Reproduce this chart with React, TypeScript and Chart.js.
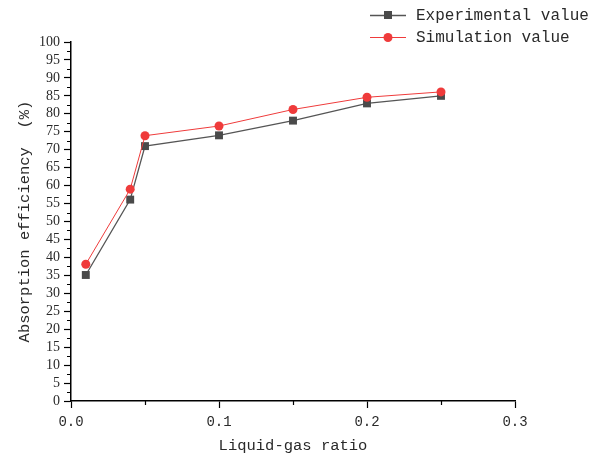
import React, { useEffect, useRef } from "react";
import { Chart, registerables } from "chart.js";

Chart.register(...registerables);

const liquidGasRatio = [0.01, 0.04, 0.05, 0.1, 0.15, 0.2, 0.25];
const experimentalValues = [35.1, 56.1, 71.0, 74.0, 78.1, 82.9, 85.0];
const simulationValues = [38.1, 59.0, 73.9, 76.6, 81.2, 84.6, 86.1];
const seriesNames = ["Experimental value", "Simulation value"];
const minorXTicks = [0.05, 0.15, 0.25];
const minorYTicks = [2.5, 7.5, 12.5, 17.5, 22.5, 27.5, 32.5, 37.5, 42.5, 47.5, 52.5, 57.5, 62.5, 67.5, 72.5, 77.5, 82.5, 87.5, 92.5, 97.5];

const GRAY = "#4a4a4a";
const RED = "#ef3b3b";
const TEXT = "#2a2a2a";
const MONO = "'Liberation Mono', 'DejaVu Sans Mono', monospace";
const SERIF = "'Liberation Serif', 'DejaVu Serif', serif";

const minorTicksPlugin = {
  id: "minorTicks",
  afterDraw(chart: any) {
    const ctx = chart.ctx;
    const xs = chart.scales.x;
    const ys = chart.scales.y;
    const area = chart.chartArea;
    ctx.save();
    ctx.strokeStyle = "#000";
    ctx.lineWidth = 1.2;
    ctx.beginPath();
    for (const v of minorYTicks) {
      const py = Math.round(ys.getPixelForValue(v)) + 0.5;
      ctx.moveTo(area.left - 4, py);
      ctx.lineTo(area.left, py);
    }
    for (const v of minorXTicks) {
      const px = Math.round(xs.getPixelForValue(v)) + 0.5;
      ctx.moveTo(px, area.bottom);
      ctx.lineTo(px, area.bottom + 4);
    }
    ctx.stroke();
    ctx.restore();
  },
};

const legendPlugin = {
  id: "customLegend",
  afterDraw(chart: any) {
    const ctx = chart.ctx;
    ctx.save();
    const rows = [15, 37];
    chart.data.datasets.forEach((ds: any, i: number) => {
      const y = rows[i];
      ctx.strokeStyle = ds.borderColor;
      ctx.lineWidth = ds.borderWidth;
      ctx.beginPath();
      ctx.moveTo(370, y + 0.5);
      ctx.lineTo(406, y + 0.5);
      ctx.stroke();
      ctx.fillStyle = ds.pointBackgroundColor;
      if (ds.pointStyle === "rect") {
        ctx.fillRect(388 - 4, y - 4, 8, 8);
      } else {
        ctx.beginPath();
        ctx.arc(388, y + 0.5, 4.5, 0, Math.PI * 2);
        ctx.fill();
      }
      ctx.fillStyle = TEXT;
      ctx.font = "16px " + MONO;
      ctx.textBaseline = "middle";
      ctx.textAlign = "left";
      ctx.fillText(ds.label, 416, y + 1);
    });
    ctx.restore();
  },
};

export default function App() {
  const ref = useRef<HTMLCanvasElement | null>(null);
  useEffect(() => {
    if (!ref.current) return;
    const chart = new Chart(ref.current, {
      type: "line",
      data: {
        datasets: [
          {
            label: seriesNames[0],
            data: liquidGasRatio.map((x, i) => ({ x, y: experimentalValues[i] })),
            borderColor: "#555555",
            borderWidth: 1.3,
            pointStyle: "rect",
            pointRadius: 5.6,
            pointBackgroundColor: GRAY,
            pointBorderColor: GRAY,
            pointBorderWidth: 0,
            order: 2,
          },
          {
            label: seriesNames[1],
            data: liquidGasRatio.map((x, i) => ({ x, y: simulationValues[i] })),
            borderColor: RED,
            borderWidth: 1,
            pointStyle: "circle",
            pointRadius: 4.5,
            pointBackgroundColor: RED,
            pointBorderColor: RED,
            pointBorderWidth: 0,
            order: 1,
          },
        ],
      },
      options: {
        animation: false,
        responsive: false,
        maintainAspectRatio: false,
        layout: { padding: { left: 0, top: 42, right: 92, bottom: 0 } },
        plugins: {
          legend: { display: false },
          tooltip: { enabled: false },
        },
        scales: {
          x: {
            type: "linear",
            min: 0,
            max: 0.3,
            afterFit(scale: any) {
              scale.height = 55;
            },
            ticks: {
              stepSize: 0.1,
              autoSkip: false,
              color: TEXT,
              padding: 6,
              maxRotation: 0,
              font: { family: MONO, size: 14 },
              callback: (v: any) => Number(v).toFixed(1),
            },
            grid: {
              drawOnChartArea: false,
              drawTicks: true,
              tickLength: 7,
              tickColor: "#000",
              tickWidth: 1.2,
            },
            border: { display: true, color: "#000", width: 1.5 },
            title: {
              display: true,
              text: "Liquid-gas ratio",
              color: TEXT,
              font: { family: MONO, size: 15.5 },
              padding: { top: 0, bottom: 1 },
            },
          },
          y: {
            type: "linear",
            min: 0,
            max: 100,
            afterFit(scale: any) {
              scale.width = 71;
            },
            ticks: {
              stepSize: 5,
              autoSkip: false,
              color: TEXT,
              padding: 4,
              font: { family: SERIF, size: 14 },
            },
            grid: {
              drawOnChartArea: false,
              drawTicks: true,
              tickLength: 7,
              tickColor: "#000",
              tickWidth: 1.2,
            },
            border: { display: true, color: "#000", width: 1.5 },
            title: {
              display: true,
              text: "Absorption efficiency  (%)",
              color: TEXT,
              font: { family: MONO, size: 15.5 },
              padding: { top: 16, bottom: 0 },
            },
          },
        },
      },
      plugins: [minorTicksPlugin, legendPlugin],
    } as any);
    return () => chart.destroy();
  }, []);
  return (
    <div style={{ position: "fixed", left: 0, top: 0, width: 607, height: 456, background: "#fff" }}>
      <canvas ref={ref} width={607} height={456} style={{ width: 607, height: 456 }} />
    </div>
  );
}
